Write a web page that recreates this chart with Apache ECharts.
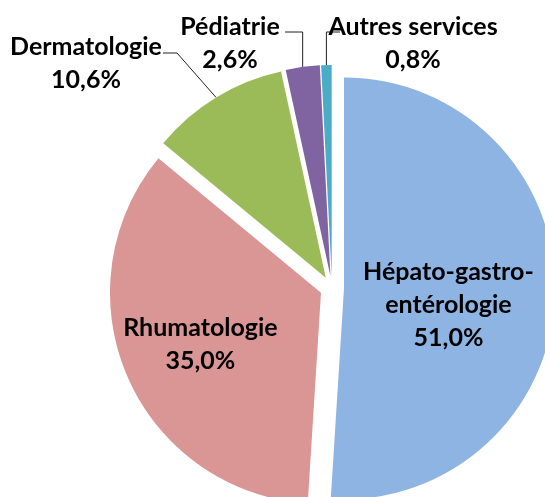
<!DOCTYPE html>
<html>
<head>
<meta charset="utf-8">
<script src="https://cdn.jsdelivr.net/npm/echarts@6/dist/echarts.min.js"></script>
<style>
html, body { margin: 0; padding: 0; background: #fff; }
#chart { width: 545px; height: 497px; }
</style>
</head>
<body>
<div id="chart"></div>
<script>
const services = ['Hépato-gastro-entérologie', 'Rhumatologie', 'Dermatologie', 'Pédiatrie', 'Autres services']
const labelNames = ['Hépato-gastro-\nentérologie', 'Rhumatologie', 'Dermatologie', 'Pédiatrie', 'Autres services']
const shares = [51.0, 35.0, 10.6, 2.6, 0.8]
const colors = ['#8EB4E3', '#D99694', '#9BBB59', '#8064A2', '#4BACC6']

const pieCenter = [332, 288]
const pieRadius = 211
const explode = 12

// where the outside labels sit, and how their leader lines bend
const outside = {
    2: { x: 86, y: 63, lineY: 53, endX: 163, elbowX: 177 },
    3: { x: 230, y: 43, lineY: 32, endX: 285 },
    4: { x: 413, y: 43, lineY: 32, endX: 340 },
}
const insideShift = { 0: [8, 14], 1: [-32, 13] }

const chart = echarts.init(document.getElementById('chart'))

// slices (exploded, no labels)
let slices = []
// same slices, invisible, only carrying the labels
let labels = []
for (let i = 0; i < services.length; i++) {
    slices.push({
        name: services[i],
        value: shares[i],
        selected: true,
        itemStyle: { color: colors[i] },
    })
    labels.push({
        name: services[i],
        value: shares[i],
        label: { position: outside[i] ? 'outside' : 'inside' },
        labelLine: { show: !!outside[i] },
    })
}

chart.setOption({
    animation: false,
    series: [{
        type: 'pie',
        center: pieCenter,
        radius: pieRadius,
        startAngle: 90,
        clockwise: true,
        selectedMode: 'multiple',
        selectedOffset: explode,
        emphasis: { disabled: true },
        label: { show: false },
        labelLine: { show: false },
        data: slices,
    }, {
        type: 'pie',
        center: pieCenter,
        radius: pieRadius,
        startAngle: 90,
        clockwise: true,
        silent: true,
        avoidLabelOverlap: false,
        emphasis: { disabled: true },
        itemStyle: { color: 'rgba(0,0,0,0)' },
        label: {
            formatter: function (p) {
                return labelNames[p.dataIndex] + '\n' + p.value.toFixed(1).replace('.', ',') + '%'
            },
            fontFamily: 'Lato',
            fontWeight: 'bold',
            fontSize: 25,
            lineHeight: 33,
            color: '#000',
            align: 'center',
        },
        labelLine: {
            lineStyle: { color: '#222', width: 1 },
        },
        labelLayout: function (params) {
            const i = params.dataIndex
            const o = outside[i]
            if (!o) {
                const s = insideShift[i] || [0, 0]
                return { dx: s[0], dy: s[1] }
            }
            // push the line start out to the exploded slice edge
            const p = params.labelLinePoints[0]
            const vx = p[0] - pieCenter[0]
            const vy = p[1] - pieCenter[1]
            const len = Math.sqrt(vx * vx + vy * vy)
            const p0 = [p[0] + vx / len * explode, p[1] + vy / len * explode]
            const ex = o.elbowX != null ? o.elbowX : p0[0]
            return {
                x: o.x,
                y: o.y,
                align: 'center',
                verticalAlign: 'middle',
                labelLinePoints: [p0, [ex, o.lineY], [o.endX, o.lineY]],
            }
        },
        data: labels,
    }],
})
</script>
</body>
</html>
